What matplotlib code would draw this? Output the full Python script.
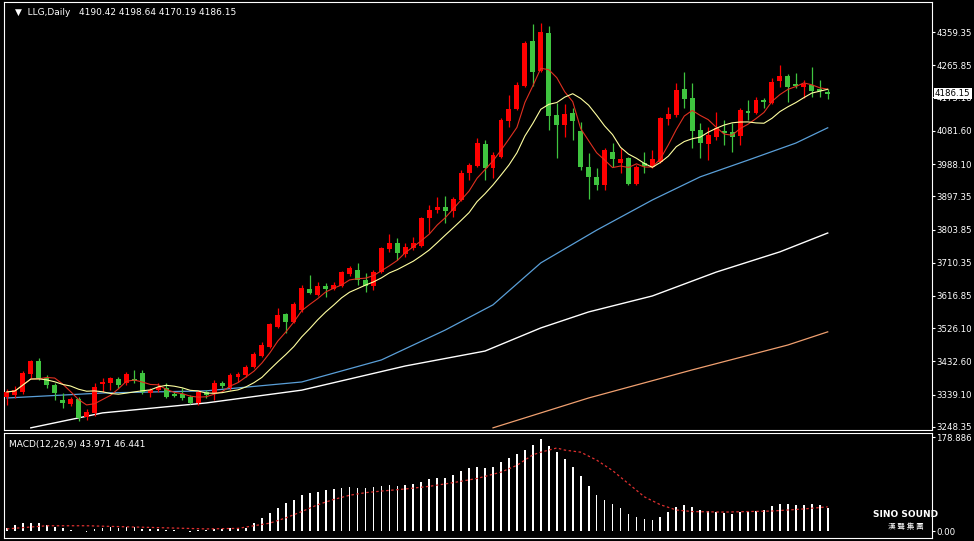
import numpy as np
import matplotlib.pyplot as plt

# daily OHLC
opens = [3333, 3338, 3347, 3397, 3434, 3386, 3366, 3324, 3313, 3327,
         3277, 3288, 3369, 3372, 3383, 3372, 3383, 3400, 3344, 3352,
         3358, 3341, 3341, 3333, 3316, 3347, 3344, 3372, 3358, 3389,
         3395, 3417, 3448, 3473, 3530, 3566, 3544, 3577, 3637, 3620,
         3645, 3637, 3645, 3679, 3690, 3662, 3645, 3684, 3749, 3766,
         3735, 3752, 3758, 3836, 3859, 3867, 3856, 3887, 3963, 3983,
         4044, 3977, 4008, 4109, 4143, 4208, 4334, 4250, 4357, 4126,
         4098, 4132, 4081, 3980, 3952, 3929, 4022, 3991, 4005, 3932,
         3991, 3980, 3994, 4115, 4126, 4199, 4174, 4084, 4044, 4064,
         4081, 4078, 4067, 4137, 4132, 4168, 4160, 4222, 4236, 4213,
         4205, 4210, 4199, 4190.42]
highs = [3355, 3364, 3406, 3437, 3442, 3395, 3372, 3344, 3333, 3333,
         3299, 3372, 3386, 3389, 3389, 3403, 3409, 3409, 3358, 3372,
         3372, 3347, 3358, 3338, 3352, 3352, 3381, 3378, 3400, 3403,
         3423, 3459, 3487, 3541, 3583, 3569, 3600, 3648, 3676, 3656,
         3653, 3656, 3687, 3701, 3710, 3682, 3690, 3755, 3791, 3780,
         3766, 3783, 3839, 3873, 3895, 3898, 3895, 3971, 3991, 4061,
         4056, 4022, 4117, 4182, 4219, 4334, 4382, 4385, 4376, 4160,
         4157, 4146, 4106, 4019, 3977, 4033, 4047, 4033, 4008, 3985,
         4022, 4027, 4120, 4148, 4216, 4247, 4216, 4103, 4092, 4134,
         4112, 4103, 4146, 4168, 4177, 4174, 4230, 4267, 4241, 4244,
         4224, 4261, 4224, 4198.64]
lows = [3310, 3330, 3341, 3386, 3381, 3358, 3324, 3302, 3307, 3265,
        3268, 3279, 3347, 3352, 3358, 3366, 3372, 3341, 3333, 3347,
        3330, 3333, 3324, 3313, 3310, 3330, 3324, 3358, 3352, 3375,
        3389, 3414, 3445, 3471, 3527, 3513, 3541, 3572, 3622, 3617,
        3614, 3634, 3642, 3673, 3648, 3628, 3634, 3682, 3741, 3718,
        3727, 3746, 3755, 3794, 3850, 3822, 3839, 3884, 3943, 3980,
        3943, 3949, 4005, 4092, 4140, 4205, 4208, 4247, 4084, 4005,
        4064, 4056, 3971, 3890, 3915, 3915, 3980, 3963, 3929, 3929,
        3963, 3977, 3991, 4098, 4120, 4146, 4033, 4005, 3999, 4056,
        4042, 4022, 4042, 4112, 4129, 4146, 4157, 4205, 4162, 4202,
        4174, 4177, 4177, 4170.19]
closes = [3347, 3352, 3400, 3434, 3386, 3366, 3344, 3316, 3327, 3274,
          3291, 3361, 3375, 3386, 3366, 3397, 3378, 3347, 3352, 3361,
          3333, 3336, 3330, 3316, 3347, 3338, 3372, 3364, 3395, 3397,
          3417, 3454, 3479, 3538, 3563, 3544, 3594, 3639, 3625, 3645,
          3637, 3648, 3684, 3696, 3662, 3645, 3684, 3752, 3766, 3738,
          3755, 3766, 3836, 3859, 3867, 3856, 3890, 3963, 3985, 4047,
          3977, 4013, 4112, 4143, 4210, 4328, 4247, 4359, 4123, 4098,
          4129, 4109, 3980, 3952, 3929, 4027, 4002, 4002, 3932, 3980,
          3982, 4002, 4117, 4129, 4196, 4171, 4081, 4047, 4070, 4089,
          4075, 4064, 4140, 4132, 4168, 4162, 4219, 4236, 4205, 4208,
          4213, 4193, 4193, 4186.15]

# slow moving averages, sampled at candle indices
blue_idx = [0, 12, 25, 37, 47, 55, 61, 67, 74, 81, 87, 93, 99, 103]
blue_val = [3330, 3344, 3350, 3375, 3437, 3521, 3592, 3710, 3802, 3887, 3952, 3999, 4047, 4090]
white_idx = [3, 12, 25, 37, 50, 60, 67, 73, 81, 89, 97, 103]
white_val = [3246, 3288, 3316, 3352, 3420, 3462, 3527, 3572, 3617, 3684, 3741, 3794]
orange_idx = [61, 73, 86, 98, 103]
orange_val = [3246, 3330, 3409, 3479, 3516]

macd = [5, 11, 15, 16, 15, 11, 8, 5, 2, 0, -1, 4, 6, 7, 6, 8, 7, 4, 3, 3,
        2, 1, 0, -1, 1, 1, 3, 3, 5, 5, 6, 16, 25, 34, 43, 53, 59, 68, 72, 75,
        78, 80, 82, 84, 82, 81, 84, 86, 87, 86, 87, 89, 94, 99, 100, 101, 107, 114, 120, 122,
        120, 122, 132, 138, 146, 154, 164, 175, 162, 151, 137, 122, 105, 86, 68, 59, 51, 43, 32, 27,
        23, 21, 27, 36, 46, 49, 46, 40, 38, 36, 34, 32, 36, 36, 38, 40, 48, 51, 51, 49,
        49, 51, 49, 44]
sig_idx = [0, 5, 10, 15, 20, 25, 29, 31, 33, 35, 37, 39, 41, 43, 45, 47, 50, 53, 56, 59,
           62, 64, 66, 67, 69, 70, 72, 74, 76, 78, 80, 82, 84, 86, 90, 96, 100, 103]
sig_val = [4, 10, 10, 8, 6, 4, 5, 10, 15, 25, 37, 50, 60, 68, 73, 76, 80, 85, 92, 100,
           112, 125, 145, 150, 158, 154, 150, 135, 115, 90, 65, 50, 40, 37, 36, 38, 42, 46]

price_ticks = [4359.35, 4265.85, 4175.18, 4081.60, 3988.10, 3897.35, 3803.85,
               3710.35, 3616.85, 3526.10, 3432.60, 3339.10, 3248.35]

BG = 'black'
UP = '#ff0000'
DN = '#3fc43f'

fig = plt.figure(figsize=(9.74, 5.41), dpi=100, facecolor=BG)
ax = fig.add_axes([0.004, 1 - 430 / 541, 0.953, 428 / 541])
ax2 = fig.add_axes([0.004, 1 - 538 / 541, 0.953, 105 / 541])

for a in (ax, ax2):
    a.set_facecolor(BG)
    for s in a.spines.values():
        s.set_color('white')
        s.set_linewidth(0.8)
    a.set_xticks([])
    a.yaxis.tick_right()
    a.tick_params(axis='y', colors='white', labelsize=6.2, length=2, pad=1)
    a.set_xlim(-0.375, 116.1)

x = np.arange(len(closes))
o = np.array(opens); c = np.array(closes)
for i in x:
    col = UP if c[i] >= o[i] else DN
    ax.vlines(i, lows[i], highs[i], color=col, lw=0.9, zorder=3)
    lo, hi = min(o[i], c[i]), max(o[i], c[i])
    ax.bar(i, max(hi - lo, 1.5), bottom=lo, width=0.62, color=col, zorder=4, linewidth=0)

ma5 = [c[max(0, i - 4):i + 1].mean() for i in x]
ma10 = [c[max(0, i - 9):i + 1].mean() for i in x]
ax.plot(x, ma5, color='#e03020', lw=0.8, zorder=5)
ax.plot(x, ma10, color='#ffffa0', lw=0.8, zorder=5)
ax.plot(blue_idx, blue_val, color='#5a9fd8', lw=0.9)
ax.plot(white_idx, white_val, color='white', lw=1.0)
ax.plot(orange_idx, orange_val, color='#f0a070', lw=0.9)

ax.set_ylim(3239.9, 4443.8)
ax.set_yticks(price_ticks)
ax.set_yticklabels(['%.2f' % p for p in price_ticks])
ax.text(1.003, 4186.15, '4186.15', transform=ax.get_yaxis_transform(), fontsize=6.2,
        color='black', va='center', ha='left', zorder=10,
        bbox=dict(boxstyle='square,pad=0.12', fc='white', ec='none'), clip_on=False)
ax.text(0.012, 0.985, '\u25bc  LLG,Daily   4190.42 4198.64 4170.19 4186.15', transform=ax.transAxes,
        fontsize=6.5, color='white', va='top', ha='left')

ax2.bar(x, macd, width=0.22, color='white', linewidth=0)
ax2.plot(sig_idx, sig_val, color='#e03030', lw=0.9, ls=(0, (2, 2)))
ax2.set_ylim(-13.3, 186.5)
ax2.set_yticks([178.886, 0])
ax2.set_yticklabels(['178.886', '0.00'])
ax2.text(0.006, 0.93, 'MACD(12,26,9) 43.971 46.441', transform=ax2.transAxes,
         fontsize=6.5, color='white', va='top', ha='left')

fig.text(0.93, 0.045, 'SINO SOUND', color='white', fontsize=6.5, fontweight='bold', ha='center')
fig.text(0.93, 0.022, '漢 聲 集 團', color='white', fontsize=5.5, ha='center',
         family=['Noto Sans CJK TC', 'DejaVu Sans'])

fig.savefig('out.png', dpi=100, facecolor=BG)
